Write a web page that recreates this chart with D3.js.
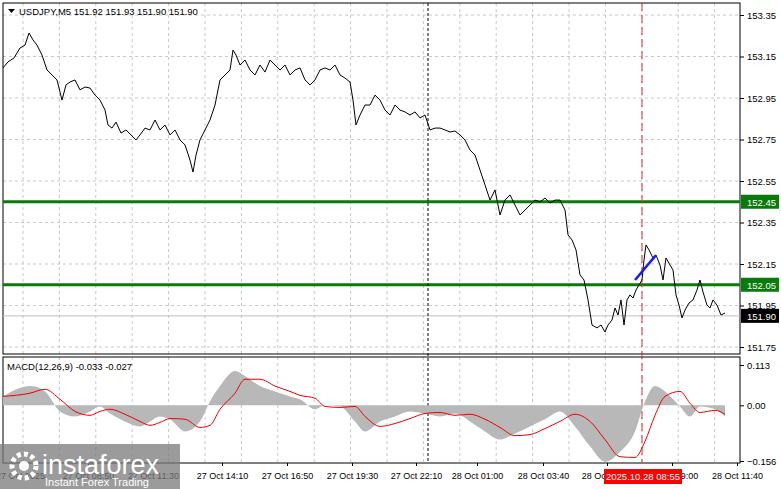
<!DOCTYPE html><html><head><meta charset="utf-8"><script src="https://cdn.jsdelivr.net/npm/d3@7"></script>
<style>body{margin:0;background:#fff}svg{font-family:"Liberation Sans",Arial,sans-serif}</style></head><body><svg id="c" width="781" height="489"></svg>
<script>
const priceBars=[0,2.5,5.5,8.5,11,13,15,17,19.5,22,24.5,27,29.5,31.5,33.5,36,38.5,41,43.5,46,48.5,51,52.5,54.5,56.5,59,61.5,64,66.5,68.5,71,73.5,76,78.5,81,83.5,86,88.5,91,93.5,95,96.5,98.5,101,103.5,106,108.5,111,113.5,115,116.5,118.5,121,123.5,126,128.5,131,133.5,136,138.5,141,143.5,146,148.5,151,153.5,156,158.5,161,163.5,166,168.5,171,173.5,175,176.5,178.5,181,183.5,186,188.5,191,193.5,196,198.5,201,203.5,206,208.5,211,213.5,216,218.5,221,223.5,226,228.5,231,233.5,236,238.5,241,243.5,246,248.5,251,253.5,256,258.5,261,263.5,266,268.5,271,273.5,276,278.5,281,282.5,284.5,286.5,288.5,290.5,292.5,294.5,297,299,301,302.5,304.5,306,307.5,309,310.5,312,313.5,315,316.5,318,319.5,320.5,321.5,323,325,326.5,328.5,330,331.5,333.5,335,336.5,338,339.5,341,343,345,347,348.5,350,352,353.5,355,357,359,361];
const prices=[153.095,153.124,153.143,153.191,153.205,153.263,153.230,153.205,153.157,153.085,153.061,153.037,152.940,153.013,153.027,153.037,152.989,153.003,152.998,152.964,152.940,152.892,152.820,152.805,152.834,152.781,152.796,152.772,152.748,152.772,152.805,152.796,152.844,152.796,152.820,152.772,152.796,152.748,152.724,152.651,152.593,152.675,152.748,152.796,152.844,152.916,153.037,153.061,153.085,153.181,153.157,153.109,153.133,153.085,153.061,153.109,153.075,153.133,153.109,153.085,153.109,153.061,153.085,153.095,153.037,153.013,153.037,153.085,153.095,153.085,153.109,153.061,153.046,153.027,152.940,152.820,152.868,152.916,152.916,152.964,152.940,152.892,152.868,152.916,152.892,152.883,152.868,152.883,152.854,152.868,152.796,152.805,152.805,152.796,152.786,152.791,152.772,152.748,152.699,152.675,152.603,152.531,152.458,152.507,152.386,152.458,152.483,152.434,152.386,152.410,152.434,152.458,152.449,152.468,152.444,152.458,152.458,152.410,152.290,152.266,152.218,152.097,152.073,151.977,151.856,151.842,151.856,151.822,151.856,151.880,151.938,151.904,151.977,151.856,151.977,152.001,151.986,152.025,152.049,152.073,152.169,152.242,152.218,152.179,152.193,152.145,152.073,152.179,152.145,152.121,152.001,151.952,151.890,151.928,151.962,151.977,152.025,152.073,152.015,151.952,151.938,151.977,151.952,151.904,151.914];
const macdBars=[0,13.5,21,28.5,36,43.5,48.5,53.5,61,68.5,73.5,78.5,83.5,91,98.5,103.5,108.5,116,121,128.5,136,143.5,148.5,156,161,168.5,176,181,188.5,196,203.5,211,218.5,226,233.5,241,248.5,256,263.5,271,278.5,286,293.5,301,308.5,316,321,326,331,338.5,343.5,348.5,356,361];
const macdHist=[.025,.054,.039,-.017,-.031,-.017,-.003,-.023,-.045,-.059,-.045,-.031,-.039,-.073,-.045,.011,.054,.096,.082,.054,.039,.025,.017,-.011,0,-.003,-.045,-.073,-.045,-.031,-.017,-.023,-.031,-.023,-.045,-.073,-.096,-.079,-.059,-.039,-.017,-.059,-.115,-.158,-.130,-.073,.011,.054,.039,-.003,-.031,-.003,-.011,-.031];
const macdSignal=[.025,.034,.045,.017,-.017,-.028,-.017,-.011,-.025,-.045,-.056,-.048,-.037,-.039,-.062,-.056,-.011,.034,.073,.073,.054,.039,.028,.020,-.003,-.006,-.003,-.031,-.059,-.051,-.037,-.023,-.020,-.028,-.025,-.039,-.062,-.085,-.082,-.065,-.045,-.025,-.045,-.096,-.144,-.146,-.101,-.028,.025,.039,.006,-.020,-.014,-.025];
const priceTicks=[153.35,153.15,152.95,152.75,152.55,152.35,152.15,151.95,151.75];
const levels=[152.45,152.05];
const lastPrice=151.90;
const macdTicks=[0.113,0.00,-0.156];
const timeLabels=["27 Oct 2025","27 Oct 08:50","27 Oct 11:30","27 Oct 14:10","27 Oct 16:50","27 Oct 19:30","27 Oct 22:10","28 Oct 01:00","28 Oct 03:40","28 Oct 06:20","28 Oct 09:00","28 Oct 11:40"];
const timeBars=[8.5,42.5,75,109.5,142,174.5,206.5,237,270,302,334.5,367];
const sessionBar=212.5, cursorBar=319.5, cursorLabel="2025.10.28 08:55";
const arrowBars=[316,326.5], arrowPrices=[152.073,152.193];

const svg=d3.select("#c");
const L=3,R=740,T1=3,B1=354,T2=357,B2=463;
const x=d3.scaleLinear().domain([0,368.5]).range([L,R]);
const y=d3.scaleLinear().domain([151.75,153.35]).range([347,15]);
const ym=d3.scaleLinear().domain([-0.156,0.113]).range([461,365]);
const grid="#c8c8c8";
const gx=d3.range(23,R,36.4);
[[T1,B1],[T2,B2]].forEach(([a,b])=>{
  svg.selectAll(null).data(gx).join("line").attr("x1",d=>d).attr("x2",d=>d).attr("y1",a).attr("y2",b).attr("stroke",grid).attr("stroke-dasharray","3,3");
});
svg.selectAll(null).data(priceTicks).join("line").attr("x1",L).attr("x2",R).attr("y1",d=>y(d)).attr("y2",d=>y(d)).attr("stroke",grid).attr("stroke-dasharray","3,3");
svg.append("rect").attr("x",L).attr("y",T1).attr("width",R-L).attr("height",B1-T1).attr("fill","none").attr("stroke","#000");
svg.append("rect").attr("x",L).attr("y",T2).attr("width",R-L).attr("height",B2-T2).attr("fill","none").attr("stroke","#000");
const ra=svg.append("g").attr("transform",`translate(${R},0)`).call(d3.axisRight(y).tickValues(priceTicks).tickSize(4).tickFormat(d3.format(".2f")));
const rm=svg.append("g").attr("transform",`translate(${R},0)`).call(d3.axisRight(ym).tickValues(macdTicks).tickSize(4).tickFormat(d=>d===0?"0.00":d3.format(".3f")(d)));
[ra,rm].forEach(g=>{g.select(".domain").remove();g.selectAll("text").attr("font-size",9.5).attr("fill","#000").attr("x",7);});
levels.forEach(v=>{
  svg.append("line").attr("x1",L).attr("x2",R).attr("y1",y(v)).attr("y2",y(v)).attr("stroke","#0a7a0a").attr("stroke-width",3);
  svg.append("rect").attr("x",R+1).attr("y",y(v)-7).attr("width",38).attr("height",14).attr("fill","#0a7a0a");
  svg.append("text").attr("x",R+7).attr("y",y(v)+4).attr("fill","#fff").attr("font-size",9.5).text(v.toFixed(2));
});
svg.append("line").attr("x1",L).attr("x2",R).attr("y1",y(lastPrice)).attr("y2",y(lastPrice)).attr("stroke","#c0c0c0");
svg.append("rect").attr("x",R+1).attr("y",y(lastPrice)-7).attr("width",38).attr("height",14).attr("fill","#000");
svg.append("text").attr("x",R+7).attr("y",y(lastPrice)+4).attr("fill","#fff").attr("font-size",9.5).text(lastPrice.toFixed(2));
svg.append("line").attr("x1",x(sessionBar)).attr("x2",x(sessionBar)).attr("y1",T1).attr("y2",B2).attr("stroke","#000").attr("stroke-dasharray","3,2");
svg.append("line").attr("x1",x(cursorBar)).attr("x2",x(cursorBar)).attr("y1",T1).attr("y2",B2).attr("stroke","#d33").attr("stroke-dasharray","8,4");
const pts=priceBars.map((b,i)=>[b,prices[i]]).filter(d=>d[1]!==undefined);
svg.append("path").datum(pts).attr("d",d3.line().x(d=>x(d[0])).y(d=>y(d[1]))).attr("fill","none").attr("stroke","#000").attr("stroke-width",1);
svg.append("line").attr("x1",x(arrowBars[0])).attr("y1",y(arrowPrices[0])).attr("x2",x(arrowBars[1])).attr("y2",y(arrowPrices[1])).attr("stroke","#1a1aff").attr("stroke-width",2.5);
const mp=macdBars.map((b,i)=>[b,macdHist[i],macdSignal[i]]);
svg.append("path").datum(mp).attr("d",d3.area().x(d=>x(d[0])).y0(ym(0)).y1(d=>ym(d[1])).curve(d3.curveMonotoneX)).attr("fill","#b8b8b8");
svg.append("path").datum(mp).attr("d",d3.line().x(d=>x(d[0])).y(d=>ym(d[2])).curve(d3.curveMonotoneX)).attr("fill","none").attr("stroke","#e00").attr("stroke-width",1);
svg.append("text").attr("x",7).attr("y",370).attr("font-size",9.5).text("MACD(12,26,9) -0.033 -0.027");
svg.append("path").attr("d","M8,9 L15,9 L11.5,13 Z").attr("fill","#000");
svg.append("text").attr("x",19).attr("y",15).attr("font-size",9.5).text("USDJPY,M5  151.92 151.93 151.90 151.90");
const xa=svg.append("g").attr("transform",`translate(0,${B2})`).call(d3.axisBottom(x).tickValues(timeBars).tickSize(3).tickFormat((d,i)=>timeLabels[i]));
xa.select(".domain").remove();
xa.selectAll("text").attr("font-size",9).attr("fill","#000").attr("dy","1.1em");
svg.append("rect").attr("x",x(cursorBar)-38).attr("y",469).attr("width",78).attr("height",15).attr("fill","#f00");
svg.append("text").attr("x",x(cursorBar)+1).attr("y",480).attr("text-anchor","middle").attr("fill","#fff").attr("font-size",9.5).text(cursorLabel);
svg.append("rect").attr("x",0).attr("y",444).attr("width",180).attr("height",45).attr("fill","#7a7a7a").attr("opacity",0.75);
const gear=svg.append("g").attr("transform","translate(24,466)");
gear.append("circle").attr("r",12).attr("fill","none").attr("stroke","#fff").attr("stroke-width",5).attr("stroke-dasharray","4,3");
gear.append("circle").attr("r",5).attr("fill","#fff");
svg.append("text").attr("x",42).attr("y",474).attr("font-size",27).attr("fill","#fff").text("instaforex");
svg.append("text").attr("x",45).attr("y",486).attr("font-size",11).attr("fill","#fff").text("Instant Forex Trading");
</script></body></html>
